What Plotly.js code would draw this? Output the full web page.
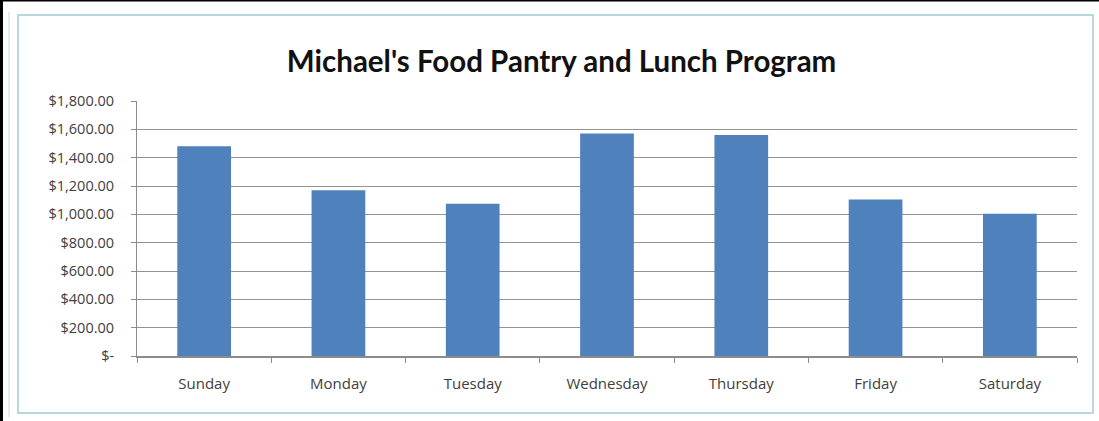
<!DOCTYPE html>
<html><head><meta charset="utf-8">
<script src="https://cdn.plot.ly/plotly-3.0.1.min.js"></script>
<style>html,body{margin:0;padding:0;background:#fff;}#chart{width:1099px;height:421px;}</style>
</head><body><div id="chart"></div>
<script>
const days = ["Sunday","Monday","Tuesday","Wednesday","Thursday","Friday","Saturday"];
const amounts = [1480, 1170, 1075, 1570, 1560, 1105, 1005];
const yTickVals = [0,200,400,600,800,1000,1200,1400,1600,1800];
const yTickText = ["$-","$200.00","$400.00","$600.00","$800.00","$1,000.00","$1,200.00","$1,400.00","$1,600.00","$1,800.00"];
const chartTitle = "Michael's Food Pantry and Lunch Program";

const trace = {
  type: "bar", x: days, y: amounts,
  marker: {color: "#4F81BD"}, hoverinfo: "x+y"
};
const layout = {
  width: 1099, height: 421,
  margin: {l: 137, r: 22, t: 101, b: 65},
  paper_bgcolor: "#ffffff", plot_bgcolor: "#ffffff",
  bargap: 0.6,
  showlegend: false,
  title: {text: chartTitle, x: 0.511, xanchor: "center", y: 0.853, yanchor: "middle",
          font: {family: "Lato, 'Open Sans', sans-serif", size: 29.5, color: "#111111", weight: "bold"}},
  font: {family: "'Open Sans', sans-serif", size: 15, color: "#404040"},
  xaxis: {
    type: "category", showgrid: false, showline: true, linecolor: "#8c8c8c", linewidth: 1.5,
    ticks: "outside", tickson: "boundaries", ticklen: 5, tickcolor: "#8c8c8c",
    tickfont: {family: "'Open Sans', sans-serif", size: 15, color: "#404040"},
    ticklabelstandoff: 13, zeroline: false
  },
  yaxis: {
    range: [0, 1800], tickvals: yTickVals, ticktext: yTickText,
    showgrid: true, gridcolor: "#939393", gridwidth: 1,
    showline: true, linecolor: "#8c8c8c", linewidth: 1,
    ticks: "outside", ticklen: 5, tickcolor: "#8c8c8c",
    tickfont: {family: "'Open Sans', sans-serif", size: 14.5, color: "#404040"},
    ticklabelstandoff: 14, zeroline: false, fixedrange: true
  },
  shapes: [
    {type: "rect", xref: "paper", yref: "paper", x0: -0.1266, x1: 1.017, y0: -0.2235, y1: 1.337,
     line: {color: "#a3ccd4", width: 1.5}, fillcolor: "rgba(0,0,0,0)", layer: "below"},
    {type: "line", xref: "paper", yref: "paper", x0: -0.1362, x1: -0.1362, y0: -0.24, y1: 1.35,
     line: {color: "#c5e0e6", width: 1}},
    {type: "line", xref: "paper", yref: "paper", x0: -0.1447, x1: -0.1447, y0: -0.3, y1: 1.4,
     line: {color: "#000000", width: 4}},
    {type: "line", xref: "paper", yref: "paper", x0: -0.15, x1: 1.03, y0: 1.394, y1: 1.394,
     line: {color: "#000000", width: 2}}
  ]
};
Plotly.newPlot("chart", [trace], layout, {displayModeBar: false, staticPlot: true});
</script>
</body></html>
